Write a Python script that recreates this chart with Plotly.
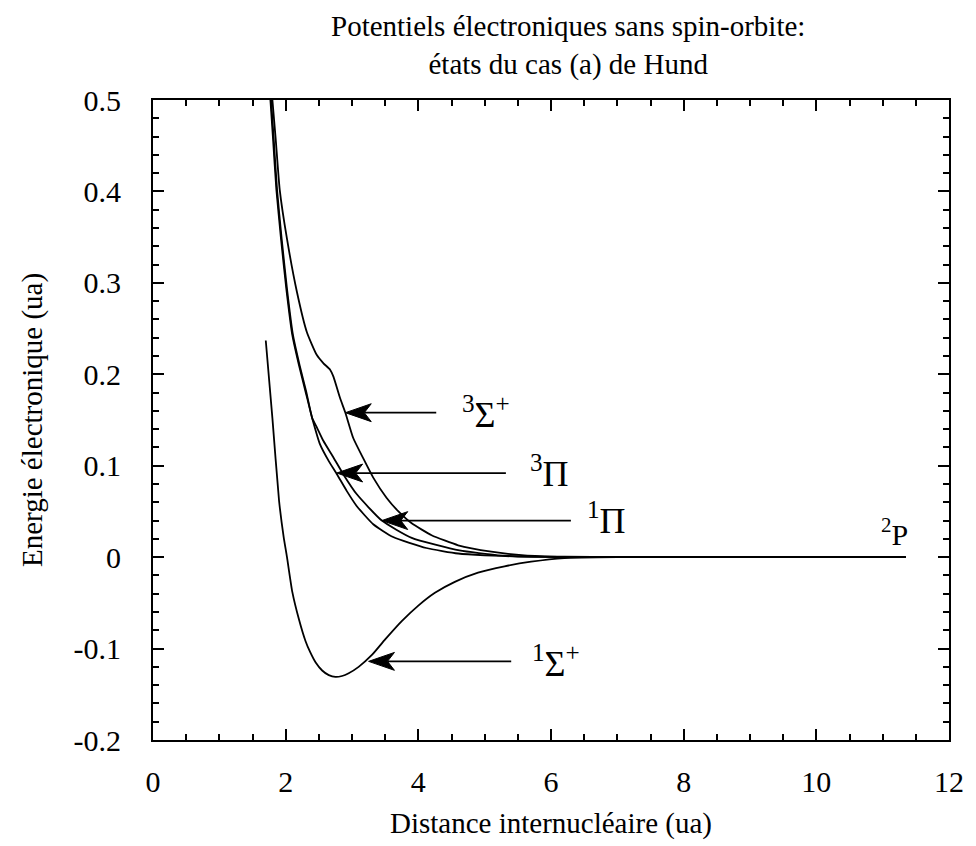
import plotly.graph_objects as go

# Potential energy curves (ua) vs internuclear distance (ua)
x_1sigma = [1.70, 1.80, 1.90, 1.97, 2.02, 2.10, 2.20, 2.30, 2.37, 2.45, 2.55, 2.65, 2.75,
            2.85, 2.95, 3.10, 3.30, 3.50, 3.75, 4.00, 4.25, 4.55, 4.90, 5.30, 5.70, 6.20,
            7.00, 11.35]
y_1sigma = [0.237, 0.152, 0.062, 0.022, 0.000, -0.038, -0.068, -0.092, -0.104, -0.115,
            -0.124, -0.129, -0.131, -0.130, -0.127, -0.120, -0.107, -0.090, -0.070,
            -0.053, -0.039, -0.027, -0.017, -0.010, -0.005, -0.001, 0.000, 0.000]

x_3sigma = [1.80, 1.85, 1.91, 2.02, 2.17, 2.32, 2.47, 2.57, 2.67, 2.72, 2.82, 2.90, 3.02,
            3.17, 3.32, 3.52, 3.70, 3.90, 4.20, 4.60, 5.10, 5.60, 6.20, 7.00, 11.35]
y_3sigma = [0.500, 0.457, 0.402, 0.348, 0.290, 0.246, 0.221, 0.212, 0.205, 0.1975, 0.174,
            0.158, 0.130, 0.108, 0.087, 0.065, 0.050, 0.037, 0.024, 0.013, 0.006, 0.002,
            0.0005, 0.000, 0.000]

x_3pi = [1.77, 1.81, 1.86, 1.93, 2.01, 2.10, 2.20, 2.30, 2.40, 2.52, 2.65, 2.77, 2.92,
         3.07, 3.32, 3.62, 4.12, 4.60, 5.00, 5.50, 6.00, 7.00, 11.35]
y_3pi = [0.500, 0.457, 0.402, 0.348, 0.2935, 0.243, 0.210, 0.181, 0.152, 0.123, 0.105,
         0.091, 0.0725, 0.056, 0.036, 0.022, 0.010, 0.004, 0.002, 0.0007, 0.0002, 0.000, 0.000]

x_1pi = [1.78, 1.82, 1.87, 1.94, 2.02, 2.11, 2.21, 2.31, 2.40, 2.47, 2.57, 2.72, 2.87,
         3.07, 3.45, 3.90, 4.62, 5.20, 5.70, 6.50, 11.35]
y_1pi = [0.500, 0.457, 0.402, 0.348, 0.2935, 0.243, 0.210, 0.181, 0.152, 0.142, 0.127,
         0.109, 0.0905, 0.069, 0.040, 0.021, 0.0073, 0.002, 0.0005, 0.000, 0.000]

# State labels: arrow tip, arrow tail, label position
labels = ["<sup>3</sup>Σ<sup>+</sup>", "<sup>3</sup>Π", "<sup>1</sup>Π", "<sup>1</sup>Σ<sup>+</sup>"]
tip_x = [2.90, 2.77, 3.45, 3.25]
tip_y = [0.158, 0.092, 0.040, -0.114]
tail_x = [4.27, 5.32, 6.30, 5.40]
label_x = [5.02, 5.97, 6.83, 6.08]
label_y = [0.158, 0.094, 0.042, -0.114]

asym_label = "<sup>2</sup>P"
asym_x = 11.18
asym_y = 0.027

title_text = "Potentiels électroniques sans spin-orbite:<br>états du cas (a) de Hund"

serif = "Liberation Serif, serif"
line_style = dict(color="black", width=1.8)

fig = go.Figure()
for xs, ys in [(x_1sigma, y_1sigma), (x_3sigma, y_3sigma), (x_3pi, y_3pi), (x_1pi, y_1pi)]:
    fig.add_trace(go.Scatter(x=xs, y=ys, mode="lines",
                             line=dict(shape="spline", smoothing=0.5, **line_style),
                             showlegend=False, hoverinfo="skip"))

# Arrow shafts and notched heads, sized in data units from the axis scales
px_per_x = 800 / 12.0
px_per_y = 644 / 0.7
head_len = 26 / px_per_x
head_notch = 19 / px_per_x
head_half = 9 / px_per_y

shapes = []
for tx, ty, sx in zip(tip_x, tip_y, tail_x):
    shapes.append(dict(type="line", xref="x", yref="y", x0=tx + head_notch, y0=ty, x1=sx, y1=ty,
                       line=dict(color="black", width=1.7)))
    path = (f"M {tx},{ty} L {tx + head_len},{ty + head_half} "
            f"L {tx + head_notch},{ty} L {tx + head_len},{ty - head_half} Z")
    shapes.append(dict(type="path", xref="x", yref="y", path=path,
                       fillcolor="black", line=dict(color="black", width=1)))

annotations = []
for lab, lx, ly in zip(labels, label_x, label_y):
    annotations.append(dict(x=lx, y=ly, xref="x", yref="y", text=lab, showarrow=False,
                            font=dict(family=serif, size=36, color="black")))
annotations.append(dict(x=asym_x, y=asym_y, xref="x", yref="y", text=asym_label, showarrow=False,
                        font=dict(family=serif, size=30, color="black")))
annotations.append(dict(x=0.5, y=1, xref="paper", yref="paper", xanchor="center", yanchor="bottom",
                        xshift=17, yshift=17, text=title_text, showarrow=False, align="center",
                        font=dict(family=serif, size=29, color="black")))

axis_common = dict(showline=True, linecolor="black", linewidth=2, mirror="ticks",
                   ticks="inside", tickcolor="black", tickwidth=1.5, ticklen=11,
                   showgrid=False, zeroline=False,
                   tickfont=dict(family=serif, size=30, color="black"))

fig.update_layout(
    width=976, height=846,
    margin=dict(l=153, r=24, t=100, b=102),
    paper_bgcolor="white", plot_bgcolor="white",
    xaxis=dict(range=[0, 12], tickmode="linear", tick0=0, dtick=2, ticklabelstandoff=14,
               minor=dict(dtick=0.5, ticks="inside", ticklen=6, tickcolor="black", tickwidth=1.5),
               title=dict(text="Distance internucléaire (ua)",
                          font=dict(family=serif, size=29, color="black"), standoff=16),
               **axis_common),
    yaxis=dict(range=[-0.2, 0.5], tickmode="array", ticklabelstandoff=24,
               tickvals=[-0.2, -0.1, 0, 0.1, 0.2, 0.3, 0.4, 0.5],
               ticktext=["-0.2", "-0.1", "0", "0.1", "0.2", "0.3", "0.4", "0.5"],
               minor=dict(dtick=0.02, ticks="inside", ticklen=6, tickcolor="black", tickwidth=1.5),
               title=dict(text="Energie électronique (ua)",
                          font=dict(family=serif, size=29, color="black"), standoff=22),
               **axis_common),
    shapes=shapes,
    annotations=annotations,
)

fig.write_html("out.html")
